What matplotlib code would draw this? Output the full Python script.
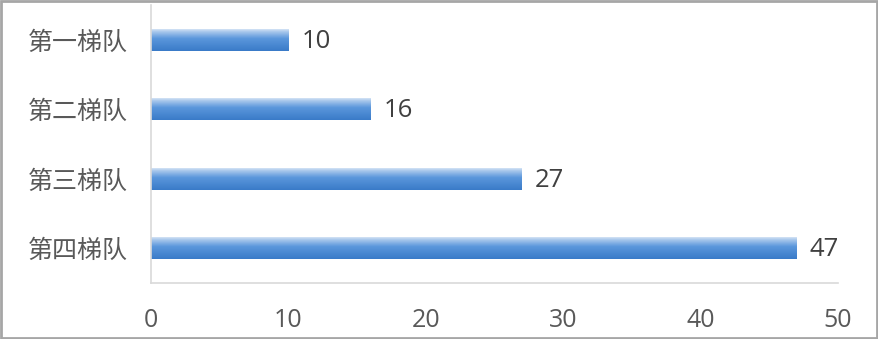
import matplotlib.pyplot as plt
import numpy as np
from matplotlib.colors import LinearSegmentedColormap
from matplotlib.patches import Rectangle

plt.rcParams['font.family'] = ['Noto Sans CJK SC', 'DejaVu Sans']

categories = ["第一梯队", "第二梯队", "第三梯队", "第四梯队"]
values = [10, 16, 27, 47]
xticks = [0, 10, 20, 30, 40, 50]

fig = plt.figure(figsize=(8.79, 3.39), dpi=100)
ax = fig.add_axes([0.1718, 0.165, 0.7816, 0.82])

bars = ax.barh(categories, values, height=0.32, color="none", edgecolor="none")

# vertical gradient, light on top, darker blue at bottom
cmap = LinearSegmentedColormap.from_list(
    "bar", [(0.0, "#e2edf8"), (0.15, "#a9c8ec"), (0.45, "#5b97dc"), (1.0, "#3a7bc8")])
grad = np.linspace(0, 1, 64).reshape(-1, 1)
for b in bars:
    x0, y0 = b.get_x(), b.get_y()
    w, h = b.get_width(), b.get_height()
    im = ax.imshow(grad, cmap=cmap, aspect="auto", extent=[x0, x0 + w, y0 + h, y0],
                   origin="upper", zorder=2)
    im.set_clip_path(b)

for v, b in zip(values, bars):
    ax.text(v + 0.95, b.get_y() + b.get_height() / 2 + 0.02, str(v), va="center", ha="left",
            fontsize=18.5, color="#404040", family=["Open Sans", "DejaVu Sans"])

ax.set_xlim(0, 50)
ax.set_ylim(3.5, -0.5)
ax.set_xticks(xticks)
ax.tick_params(axis="x", length=0, pad=18, labelsize=18, labelcolor="#595959")
ax.tick_params(axis="y", length=0, pad=17, labelsize=18, labelcolor="#595959")
for lbl in ax.get_xticklabels():
    lbl.set_family(["Open Sans", "DejaVu Sans"])
for s in ["top", "right"]:
    ax.spines[s].set_visible(False)
for s in ["left", "bottom"]:
    ax.spines[s].set_color("#d9d9d9")
    ax.spines[s].set_linewidth(1.2)

fig.patches.append(Rectangle((0.001, 0.002), 0.997, 0.995, transform=fig.transFigure,
                             fill=False, edgecolor="#a6a6a6", linewidth=2))

fig.savefig("out.png", dpi=100)
